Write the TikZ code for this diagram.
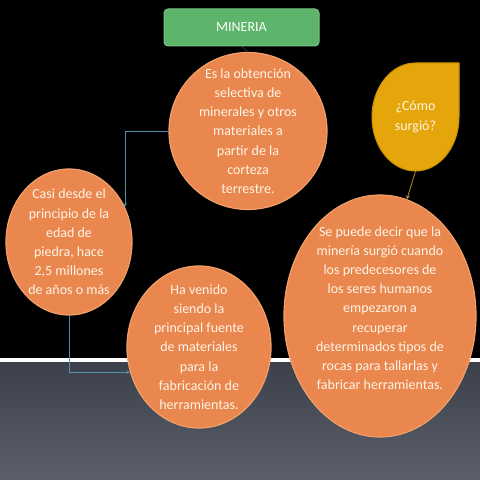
\documentclass[tikz,border=0pt]{standalone}
\usepackage{fontspec}
\setmainfont{Carlito}
\usetikzlibrary{shapes.geometric}

\begin{document}
\begin{tikzpicture}[x=1pt,y=1pt,
    bubble/.style={ellipse,fill={rgb,255:red,233; green,135; blue,78},draw={rgb,255:red,241; green,160; blue,108},line width=1.2pt,inner sep=0pt},
    bubbletext/.style={align=center,text={rgb,255:red,255; green,244; blue,230},font=\fontsize{14}{19.2}\selectfont,inner sep=0pt},
    conn/.style={color={rgb,255:red,84; green,146; blue,178},line width=0.7pt,->,>=stealth},
    goldconn/.style={color={rgb,255:red,200; green,160; blue,50},line width=0.7pt,->,>=stealth}]
    \useasboundingbox (0,0) rectangle (480,480);
    \fill[black] (0,0) rectangle (480,480);
    \shade[top color={rgb,255:red,60; green,64; blue,74},bottom color={rgb,255:red,90; green,95; blue,106}] (0,0) rectangle (480,119);
    \fill[white] (0,118) rectangle (480,121.5);

    %title
    \node[rectangle,rounded corners=4pt,fill={rgb,255:red,92; green,181; blue,106},draw={rgb,255:red,122; green,197; blue,132},line width=1pt,minimum width=155,minimum height=37,text=white,font=\fontsize{14}{17}\selectfont] (mineria) at (241.5,452.5) {MINERIA};

    %#1
    \node[bubble,minimum width=158,minimum height=157] (def) at (248,349) {};
    \node[bubbletext] (deftext) at (def.center) {Es la obtención\\selectiva de\\minerales y otros\\materiales a\\partir de la\\corteza\\terrestre.};
    \draw[color={rgb,255:red,60; green,60; blue,60},line width=0.6pt] (mineria.south) -- (def.north);

    %#2
    \node[bubble,minimum width=126,minimum height=146] (casi) at (69,238) {};
    \node[bubbletext] (casitext) at (casi.center) {Casi desde el\\principio de la\\edad de\\piedra, hace\\2,5 millones\\de años o más};
    \draw[conn] (def.west) -| (casi.32);

    %#3
    \node[bubble,minimum width=144,minimum height=162] (fab) at (199,133) {};
    \node[bubbletext] (fabtext) at (fab.center) {Ha venido\\siendo la\\principal fuente\\de materiales\\para la\\fabricación de\\herramientas.};
    \draw[conn] (casi.south) |- (fab.200);

    %#4
    \filldraw[fill={rgb,255:red,228; green,166; blue,10},draw={rgb,255:red,200; green,145; blue,0},line width=1pt] (415.5,417) -- (459,417) -- (459,363) arc[start angle=0,end angle=-270,x radius=43.5,y radius=54] -- cycle;
    \node[ellipse,minimum width=87,minimum height=108,inner sep=0pt,align=center,text={rgb,255:red,255; green,244; blue,230},font=\fontsize{14}{19.2}\selectfont] (como) at (415.5,363) {¿Cómo\\surgió?};
    \node[bubble,minimum width=192,minimum height=242] (how) at (380,164) {};
    \node[bubbletext] (howtext) at ([yshift=8pt]how.center) {Se puede decir que la\\minería surgió cuando\\los predecesores de\\los seres humanos\\empezaron a\\recuperar\\determinados tipos de\\rocas para tallarlas y\\fabricar herramientas.};
    \draw[goldconn] (como.south) -- (how.77);
\end{tikzpicture}
\end{document}
